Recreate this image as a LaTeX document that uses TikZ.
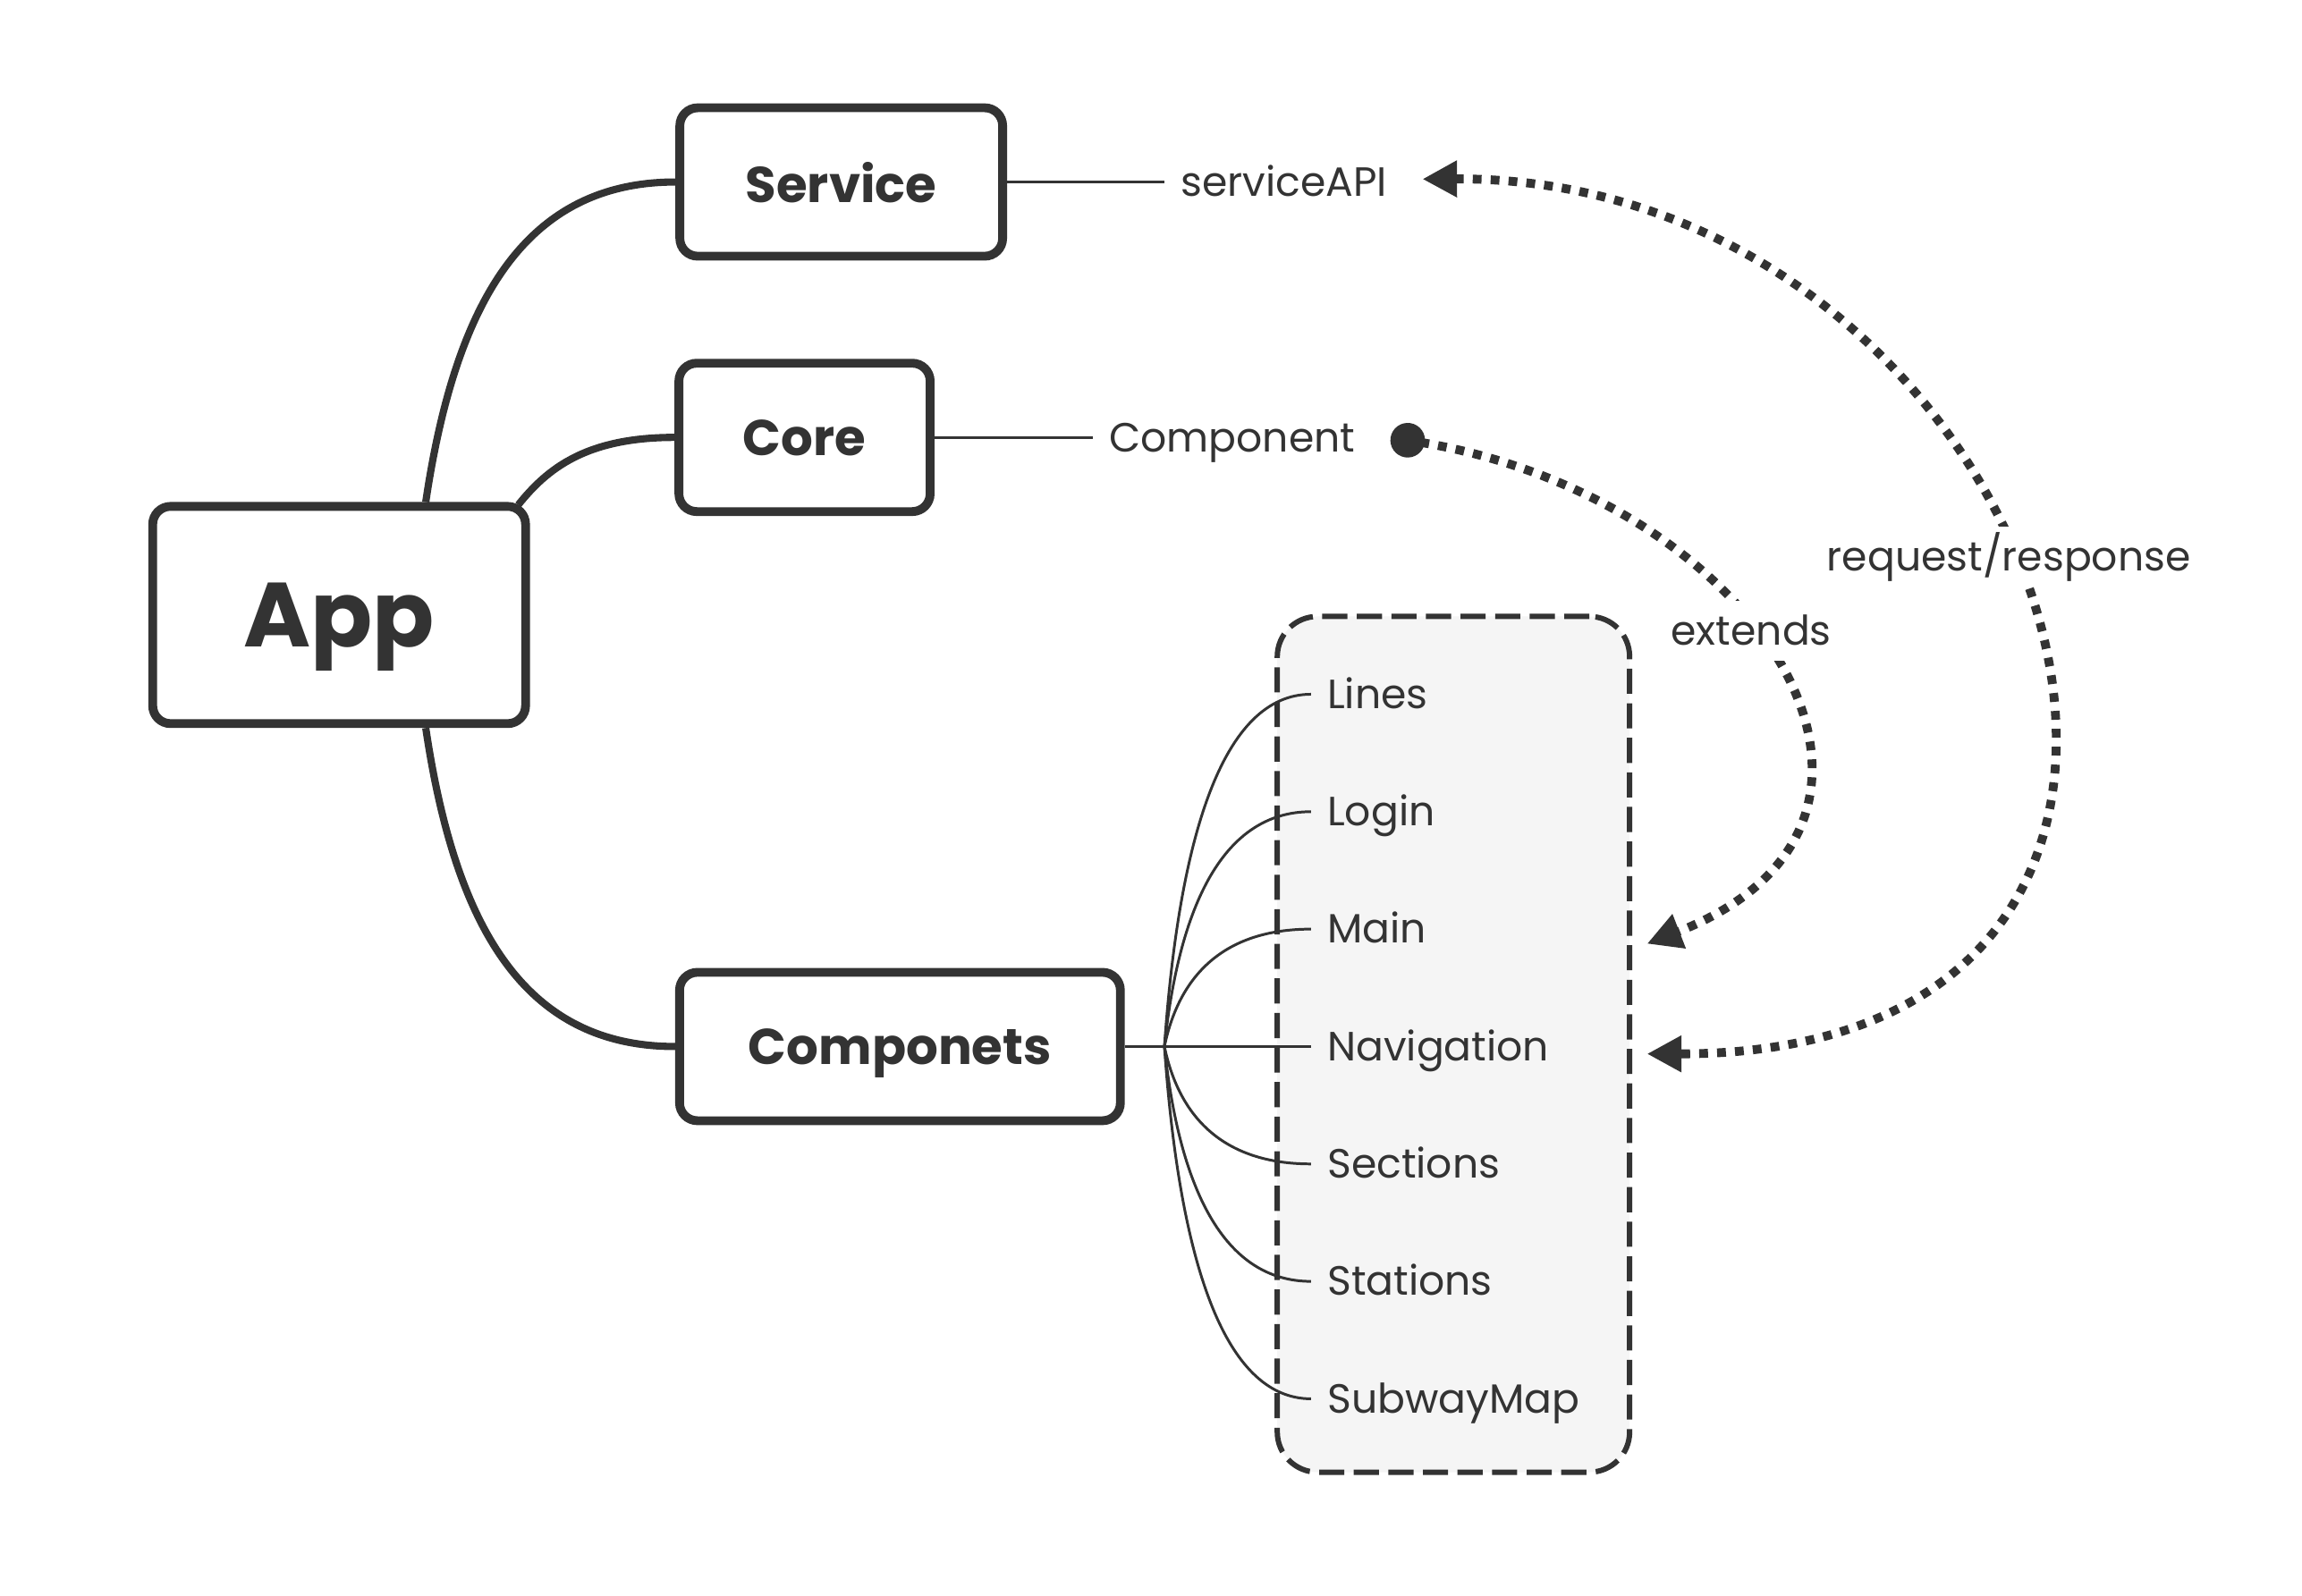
\documentclass[tikz,border=0pt]{standalone}
\usepackage{fontspec}
\setmainfont{Poppins}
\usepackage{xcolor}
\usetikzlibrary{arrows.meta,positioning,calc,fit}
\definecolor{ink}{HTML}{333333}
\definecolor{paper}{HTML}{F5F5F5}
\begin{document}
\begin{tikzpicture}[x=0.016416cm, y=-0.016416cm, >={Triangle[length=11pt, width=11pt]},
  topic/.style={draw=ink, line width=2.8pt, rounded corners=0.2cm, fill=white, text=ink, font=\bfseries\fontsize{16}{18}\selectfont, minimum height=1.66cm, text depth=0pt},
  lbl/.style={text=ink, font=\fontsize{13}{15}\selectfont, inner sep=5pt, text height=9pt, text depth=0pt},
  branch/.style={draw=ink, line width=2.3pt},
  twig/.style={draw=ink, line width=0.85pt},
  link/.style={draw=ink, line width=2.8pt, dash pattern=on 2.8pt off 2.9pt},
  grp/.style={draw=ink, line width=1.7pt, dash pattern=on 8pt off 3pt, rounded corners=0.45cm, fill=paper}]
  \useasboundingbox (0,0) rectangle (1568,1087);
  \node[topic, minimum width=4.17cm, minimum height=2.43cm, font=\bfseries\fontsize{29}{32}\selectfont](app) at (231,419){App};
  \node[topic, minimum width=3.61cm](service) at (573,124){Service};
  \node[topic, minimum width=2.81cm](core) at (548,298){Core};
  \node[topic, minimum width=4.93cm](componets) at (613,713){Componets};
  \node[lbl, right=1.76cm of service](serviceapi){serviceAPI};
  \node[lbl, right=1.77cm of core](component){Component};
  % components group
  \node[grp, fit={(870,420) (1110,1003)}, inner sep=0pt](group){};
  \node[lbl, anchor=west](lines) at (893,473){Lines};
  \node[lbl, anchor=west](login) at (893,553){Login};
  \node[lbl, anchor=west](main) at (893,633){Main};
  \node[lbl, anchor=west](navigation) at (893,713){Navigation};
  \node[lbl, anchor=west](sections) at (893,793){Sections};
  \node[lbl, anchor=west](stations) at (893,873){Stations};
  \node[lbl, anchor=west](subwaymap) at (893,953){SubwayMap};
  \coordinate (fan) at ($(componets.east)+(27,0)$);
  % branches
  \draw[branch]($(app.north)+(59,0)$) .. controls +(20,-135) and +(-103,0) .. (service.west);
  \draw[branch]($(app.north east)+(-8,2)$) .. controls +(20,-25) and +(-60,0) .. (core.west);
  \draw[branch]($(app.south)+(59,0)$) .. controls +(20,135) and +(-103,0) .. (componets.west);
  \draw[twig](service.east) -- (serviceapi.west);
  \draw[twig](core.east) -- (component.west);
  \draw[twig](componets.east) -- (navigation.west);
  \foreach \n in {lines,login,main,sections,stations,subwaymap}
    \draw[twig](fan) .. controls ($(fan)!0.6!(fan |- \n)+(10,0)$) and ($(fan |- \n)+(40,0)$) .. (\n.west);
  % relations
  \draw[link, {Circle[length=11pt]}->]($(component.east)+(13,0)$) .. controls (1200,340) and (1335,560) .. ($(group.east |- main)+(10,10)$) node[lbl, fill=white, pos=0.44]{extends};
  \draw[link, <->]($(serviceapi.east)+(13,-2)$) .. controls (1400,120) and (1590,718) .. ($(group.east |- navigation)+(10,5)$) node[lbl, fill=white, pos=0.455]{request/response};
\end{tikzpicture}
\end{document}
